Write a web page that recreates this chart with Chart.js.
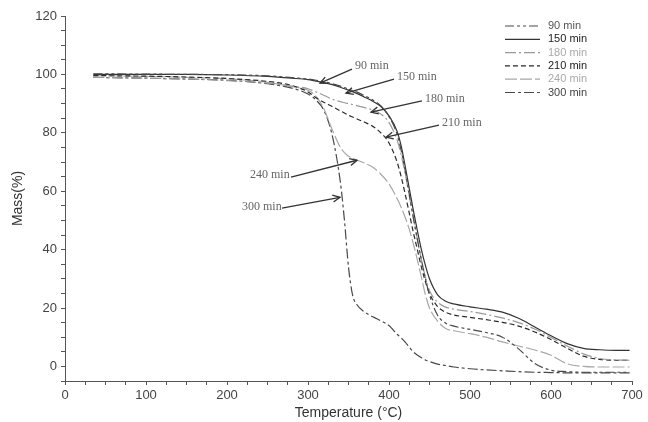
<!DOCTYPE html>
<html><head><meta charset="utf-8">
<script src="https://cdn.jsdelivr.net/npm/chart.js@4"></script>
<style>html,body{margin:0;padding:0;background:#fff}#wrap{width:648px;height:422px;position:relative}</style>
</head><body><div id="wrap"><canvas id="c"></canvas></div>
<script>
// ---- data ----
const temperatures = [35,100,150,200,250,280,300,310,320,330,340,345,350,355,360,370,380,390,400,410,415,420,425,430,435,440,445,450,460,470,480,500,520,540,560,580,600,620,640,660,680,697];
const mass90  = [100.2,100.1,100,99.9,99.5,98.9,98.4,98,97.5,96.8,96,95.5,95,94.5,94,92.7,91.2,89.2,85.5,79.5,74,67,59,51,43.5,36.5,30,24.5,17.5,14.8,13.8,12.7,11.6,10,6,1,-1.3,-1.8,-2,-2,-2,-2];
const mass150 = [100,100,100,99.8,99.3,98.7,98.2,97.7,97.2,96.5,95.6,95.1,94.6,94.1,93.5,92.2,90.8,89,85.8,80.5,75.5,68.5,61,53.5,46.5,40,34.5,30,24.5,22.3,21.4,20.4,19.6,18.6,16.5,13.5,10.5,7.8,6.2,5.7,5.5,5.5];
const mass180 = [99,98.7,98.4,97.9,97,96,95.1,94,92.8,91.5,90.7,90.3,90,89.7,89.3,88.6,87.8,86.4,83.5,77.5,72.5,66,58.5,51,43.5,36.5,30.5,26,22,20.3,19.6,18.8,17.8,16.6,15,12.8,9.9,7,4.3,2.7,2.2,2.1];
const mass210 = [99.6,99.4,99.1,98.6,97.6,96.2,94,92,90.4,89,87.5,86.8,86,85.4,84.8,83.6,82.2,80,76.5,70,65,59,52.5,46,40,34,29,25,20.5,18.5,17.6,16.8,16,15.1,13.8,11.8,9.2,6.2,3.5,2.4,2.1,2.1];
const mass240 = [99.6,99.3,99,98.5,97.3,95.8,94.6,92.5,88,81,75,73.2,72,71.3,70.7,69.6,68.2,65.8,62.5,57.5,54.5,51,47,42,36.5,30.5,24.5,20,15.5,13,12.2,11.2,10,8.4,7,5.6,3.8,0.9,0,-0.2,-0.2,-0.2];
const mass300 = [99,98.7,98.4,98,96.8,95.3,93.3,91.2,87.5,79,63,50,34,24.5,21.3,18.6,17,15.6,14,11,9.8,8.3,6.6,5,3.9,3,2.2,1.7,0.8,0.3,-0.2,-0.8,-1.2,-1.5,-1.8,-2,-2.1,-2.2,-2.2,-2.2,-2.2,-2.2];
const seriesLabels = ['90 min','150 min','180 min','210 min','240 min','300 min'];
const xMajorTicks = [0,100,200,300,400,500,600,700];
const yMajorTicks = [0,20,40,60,80,100,120];

// ---- styles ----
const seriesStyles = [
  {color:'#4a4a4a', dash:[9,3,3,3,3,3], text:'#555'},
  {color:'#333333', dash:[],            text:'#222'},
  {color:'#9a9a9a', dash:[11,3,2,3],    text:'#aaa'},
  {color:'#2a2a2a', dash:[5,3],         text:'#222'},
  {color:'#a8a8a8', dash:[12,3],        text:'#aaa'},
  {color:'#484848', dash:[10,3,3,3],    text:'#444'}
];
const seriesValues = [mass90, mass150, mass180, mass210, mass240, mass300];

// annotation arrows, in data units: [temperature, mass]
const annotations = [
  {text:'90 min',  textAt:[358,102.9], from:[354.3,101.8], to:[314.8,97.0]},
  {text:'150 min', textAt:[409.9,99.1], from:[406.2,98.4], to:[346.9,93.6]},
  {text:'180 min', textAt:[444.4,91.5], from:[440.7,90.9], to:[377.8,87.1]},
  {text:'210 min', textAt:[465.4,83.3], from:[461.7,82.6], to:[396.3,78.5]},
  {text:'240 min', textAt:[228.4,65.5], from:[279,64.8],   to:[360.5,70.6]},
  {text:'300 min', textAt:[218.5,54.5], from:[267.9,54.2], to:[339.5,57.9]}
];

const datasets = seriesValues.map((vals,i)=>({
  label: seriesLabels[i],
  data: temperatures.map((t,j)=>({x:t, y:vals[j]})),
  borderColor: seriesStyles[i].color,
  borderDash: seriesStyles[i].dash,
  borderWidth: 1.2,
  pointRadius: 0,
  fill: false,
  cubicInterpolationMode: 'monotone'
}));

const annotationPlugin = {
  id:'arrows',
  afterDatasetsDraw(chart){
    const ctx = chart.ctx, xs = chart.scales.x, ys = chart.scales.y;
    ctx.save();
    ctx.font = '12px "Liberation Serif", "DejaVu Serif", serif';
    ctx.textBaseline = 'middle';
    annotations.forEach(a=>{
      const tx = xs.getPixelForValue(a.textAt[0]), ty = ys.getPixelForValue(a.textAt[1]);
      ctx.fillStyle = '#666';
      ctx.fillText(a.text, tx, ty);
      const x1 = xs.getPixelForValue(a.from[0]), y1 = ys.getPixelForValue(a.from[1]);
      const x2 = xs.getPixelForValue(a.to[0]),   y2 = ys.getPixelForValue(a.to[1]);
      ctx.strokeStyle = '#333'; ctx.lineWidth = 1.3; ctx.setLineDash([]);
      ctx.beginPath(); ctx.moveTo(x1,y1); ctx.lineTo(x2,y2); ctx.stroke();
      const ang = Math.atan2(y2-y1, x2-x1), L = 8, w = 0.45;
      ctx.beginPath();
      ctx.moveTo(x2 - L*Math.cos(ang-w), y2 - L*Math.sin(ang-w));
      ctx.lineTo(x2,y2);
      ctx.lineTo(x2 - L*Math.cos(ang+w), y2 - L*Math.sin(ang+w));
      ctx.stroke();
    });
    ctx.restore();
  }
};

const legendPlugin = {
  id:'lineLegend',
  afterDraw(chart){
    const ctx = chart.ctx;
    const x0 = 505, x1 = 540, xt = 548, yTop = 26, dy = 13.3;
    ctx.save();
    ctx.font = '11px "Liberation Sans", Arial, sans-serif';
    ctx.textBaseline = 'middle';
    chart.data.datasets.forEach((ds,i)=>{
      const y = yTop + i*dy;
      ctx.strokeStyle = ds.borderColor; ctx.lineWidth = 1.2;
      ctx.setLineDash(ds.borderDash || []);
      ctx.beginPath(); ctx.moveTo(x0,y); ctx.lineTo(x1,y); ctx.stroke();
      ctx.setLineDash([]);
      ctx.fillStyle = seriesStyles[i].text;
      ctx.fillText(ds.label, xt, y);
    });
    ctx.restore();
  }
};

const tickFont = {family:'"Liberation Sans", Arial, sans-serif', size:13};
new Chart(document.getElementById('c'), {
  type:'line',
  data:{datasets},
  options:{
    responsive:true, maintainAspectRatio:false, animation:false,
    layout:{padding:{left:0, top:16, right:16, bottom:0}},
    plugins:{legend:{display:false}, tooltip:{enabled:false}},
    scales:{
      x:{
        type:'linear', min:0, max:700,
        ticks:{stepSize:25, autoSkip:false, maxRotation:0, color:'#444', font:tickFont, padding:3,
               callback:v=> xMajorTicks.includes(v) ? String(v) : ''},
        grid:{display:true, drawOnChartArea:false, drawTicks:true, tickLength:4, color:'#555'},
        border:{display:true, color:'#555', width:1},
        title:{display:true, text:'Temperature (°C)', color:'#333', font:{family:'"Liberation Sans", Arial, sans-serif', size:14}, padding:{top:0,bottom:0}},
        afterFit:s=>{ s.height = 41; }
      },
      y:{
        type:'linear', min:-5, max:120,
        ticks:{stepSize:5, autoSkip:false, color:'#444', font:tickFont, padding:4,
               callback:v=> yMajorTicks.includes(v) ? String(v) : ''},
        grid:{display:true, drawOnChartArea:false, drawTicks:true, tickLength:4, color:'#555'},
        border:{display:true, color:'#555', width:1},
        title:{display:true, text:'Mass(%)', color:'#333', font:{family:'"Liberation Sans", Arial, sans-serif', size:14}, padding:{top:10,bottom:0}},
        afterFit:s=>{ s.width = 65; }
      }
    }
  },
  plugins:[annotationPlugin, legendPlugin]
});
</script>
</body></html>
